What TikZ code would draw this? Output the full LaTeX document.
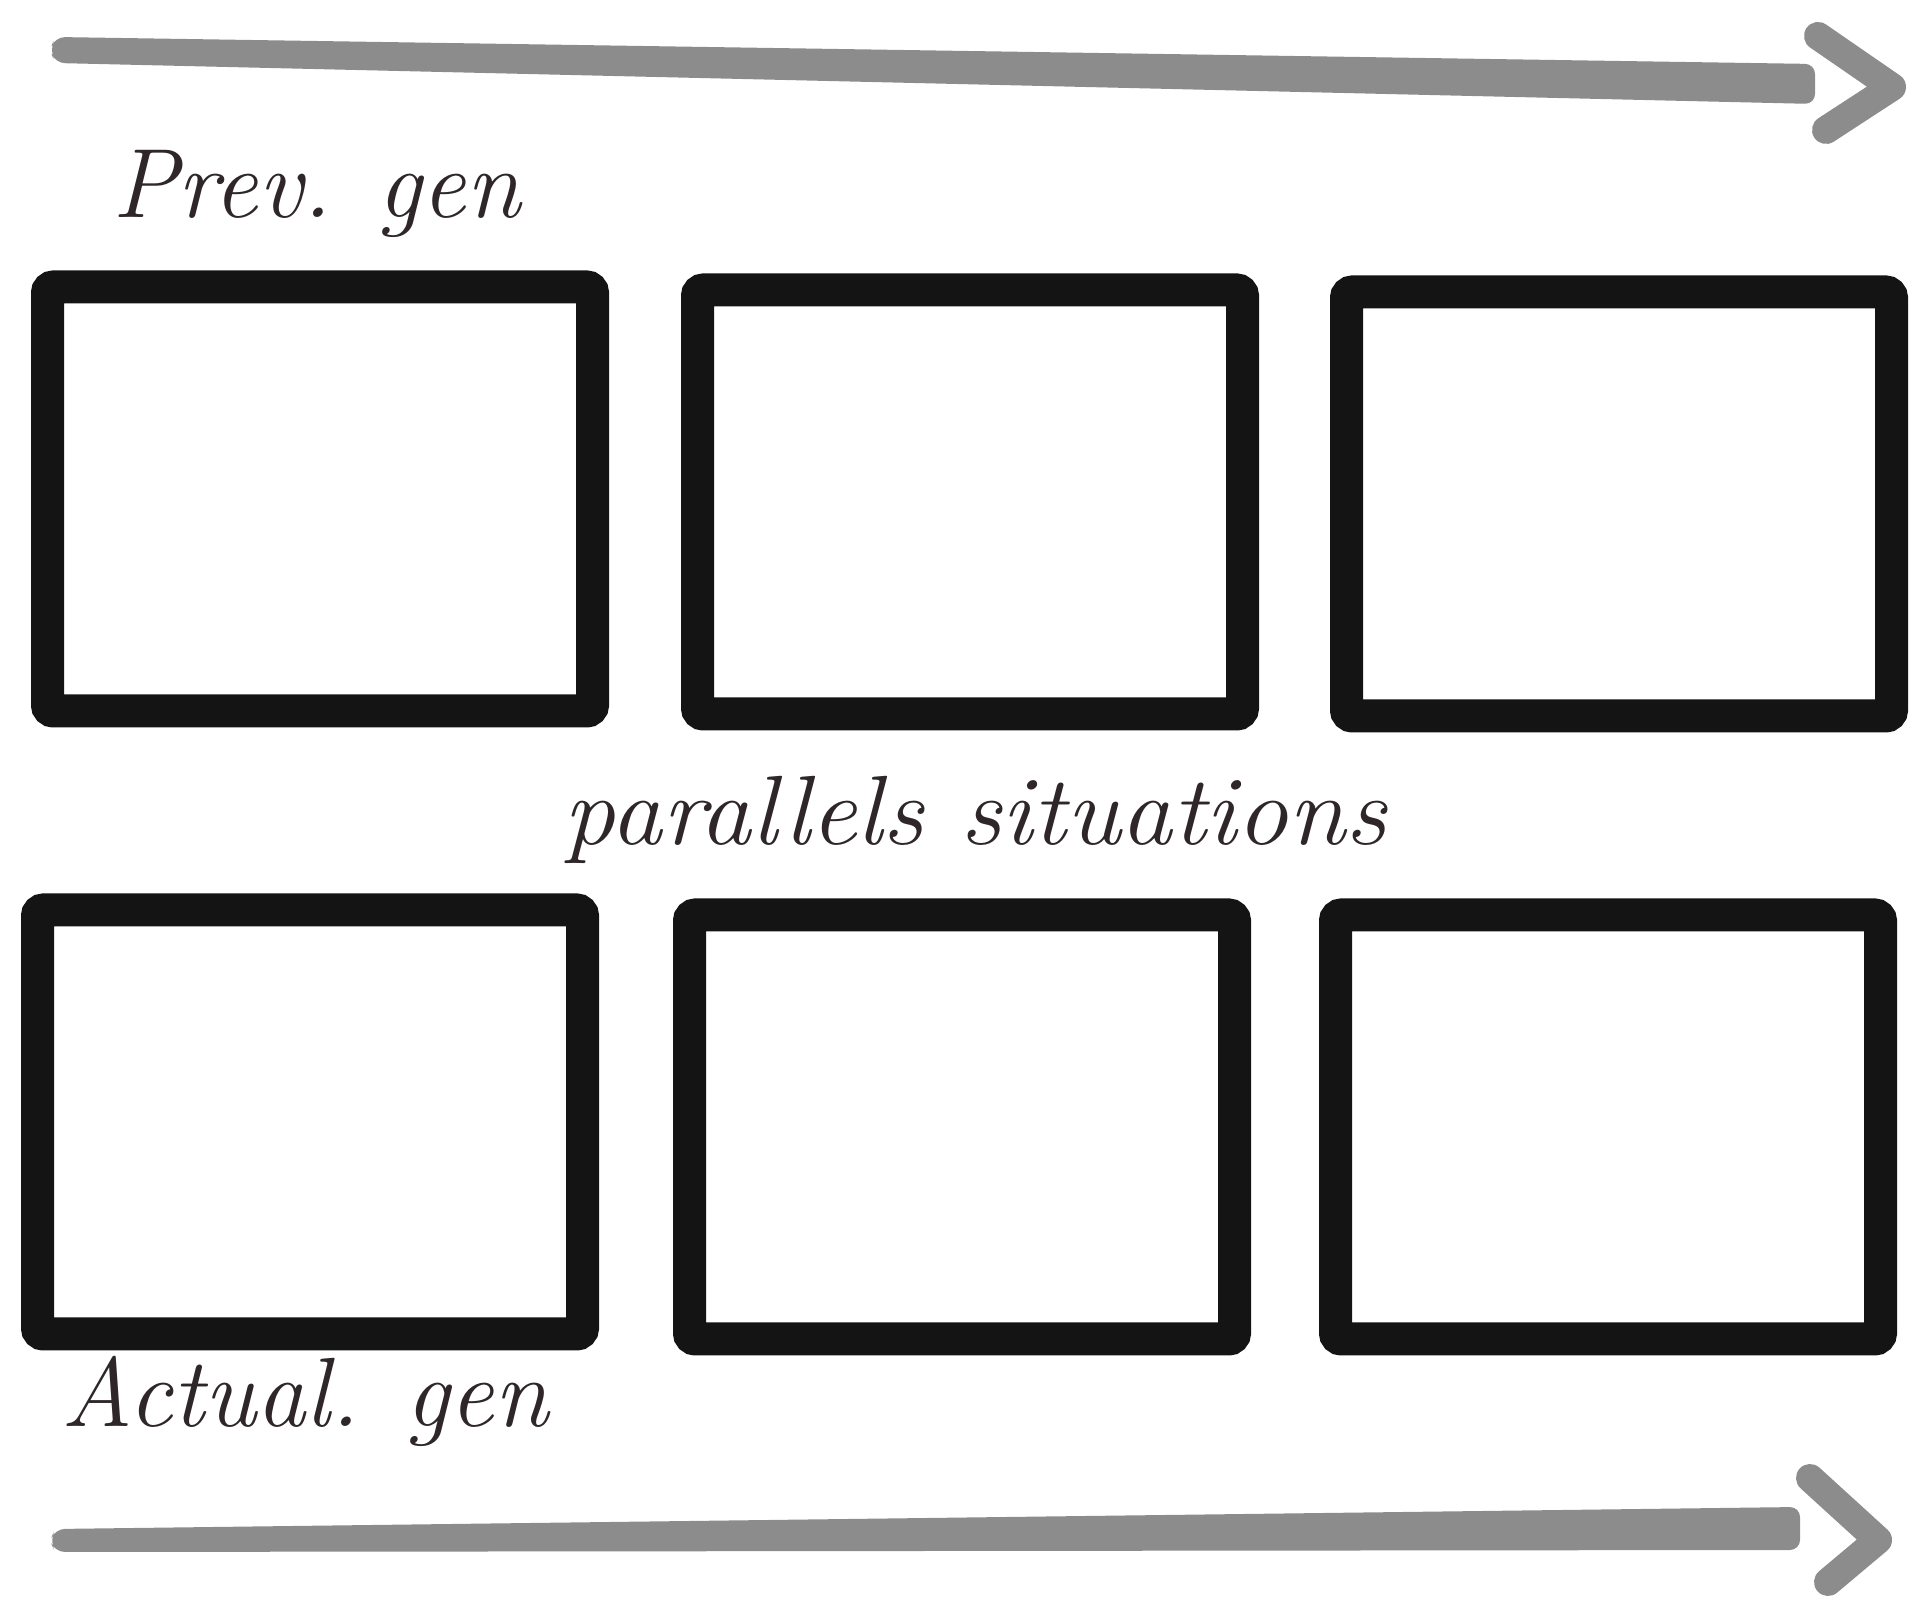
\documentclass[tikz,border=0pt]{standalone}
\usepackage{tikz}
\usetikzlibrary{positioning}
\definecolor{ink}{HTML}{2E2628}
\definecolor{chalk}{HTML}{8C8C8C}

\begin{document}
\begin{tikzpicture}[x=0.1mm,y=-0.1mm,
  frame/.style={draw=black!92, line width=3.3mm, rounded corners=0.6mm, inner sep=0pt,
    minimum width=54.5mm, minimum height=42.4mm},
  script/.style={text=ink, inner sep=0pt, anchor=base west, font=\fontsize{28}{32}\selectfont\itshape},
  head/.style={draw=chalk, line width=2.8mm, line cap=round, line join=round}]
\useasboundingbox (0,0) rectangle (1920,1599);
% time arrows
\fill[chalk, rounded corners=1mm] (50,50) -- (55,37) -- (1815,64) -- (1815,104) -- (55,63) -- cycle;
\draw[head] (1818,36) -- (1892,87) -- (1826,130);
\fill[chalk, rounded corners=1mm] (50,1541) -- (55,1529) -- (1800,1507) -- (1800,1550) -- (55,1552) -- cycle;
\draw[head] (1810,1478) -- (1878,1540) -- (1828,1582);
% previous generation
\node[script] (prevlbl) at (112,218) {Prev. gen};
\node[frame] (prev1) at (320,499) {};
\node[frame] (prev2) at (970,502) {};
\node[frame] (prev3) at (1619,504) {};
\node[script, xscale=1.05] (parlbl) at (563,845) {parallels situations};
% actual generation
\node[frame] (act1) at (310,1122) {};
\node[frame] (act2) at (962,1127) {};
\node[frame] (act3) at (1608,1127) {};
\node[script] (actlbl) at (61,1427) {Actual. gen};
\end{tikzpicture}
\end{document}
